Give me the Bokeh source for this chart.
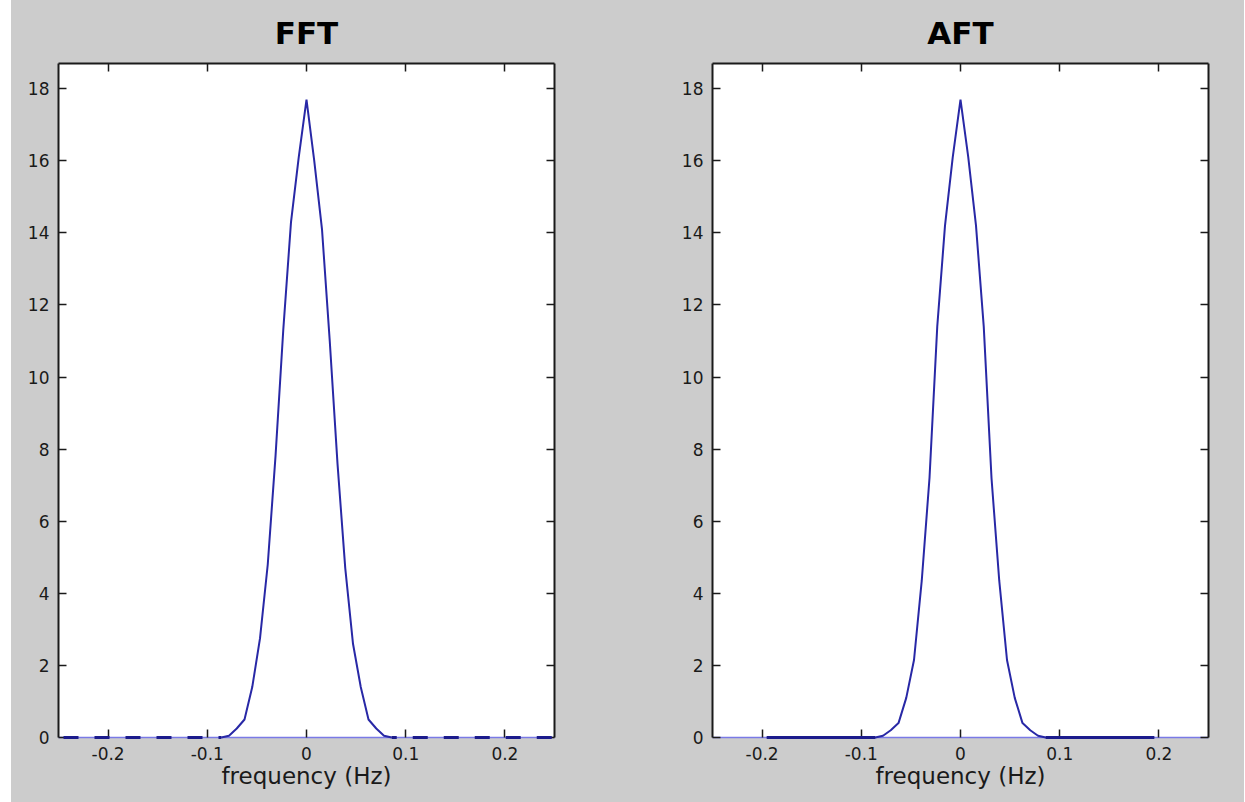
import numpy as np
from bokeh.plotting import figure
from bokeh.models import LinearAxis, FixedTicker, Range1d, Spacer
from bokeh.layouts import row, column
from bokeh.embed import file_html
from bokeh.resources import INLINE

# frequency grid (Hz), step 1/128
freq = np.arange(-32, 33) / 128.0

# FFT magnitude
fft_vals = [0]*22 + [0.05, 0.25, 0.5, 1.4, 2.75, 4.8, 7.8, 11.3, 14.3, 16.1,
                     17.7,
                     16.0, 14.1, 11.0, 7.6, 4.7, 2.6, 1.4, 0.5, 0.25, 0.05] + [0]*22

# AFT magnitude (defined on |f| <= 0.195 Hz)
aft_freq = np.arange(-25, 26) / 128.0
aft_vals = [0]*15 + [0.05, 0.2, 0.4, 1.1, 2.15, 4.35, 7.2, 11.4, 14.2, 16.1,
                     17.7,
                     16.1, 14.2, 11.4, 7.2, 4.35, 2.15, 1.1, 0.4, 0.2, 0.05] + [0]*15

x_ticks = [-0.2, -0.1, 0, 0.1, 0.2]
x_tick_labels = ["-0.2", "-0.1", "0", "0.1", "0.2"]
y_ticks = [0, 2, 4, 6, 8, 10, 12, 14, 16, 18]
titles = ["FFT", "AFT"]

GRAY = "#cccccc"
LINE = "#2828a6"
AXC = "#1a1a1a"
FONT = "DejaVu Sans"


def make(title, bl, br):
    p = figure(frame_width=496, frame_height=674,
               x_range=Range1d(-0.25, 0.25), y_range=Range1d(0, 18.7),
               output_backend="svg", toolbar_location=None,
               min_border_left=bl, min_border_right=br,
               min_border_top=63, min_border_bottom=65)
    p.border_fill_color = GRAY
    p.background_fill_color = "white"
    p.outline_line_color = None
    p.grid.visible = False
    p.title.text = title
    p.title.text_font = FONT
    p.title.text_font_style = "bold"
    p.title.text_font_size = "31px"
    p.title.align = "center"
    p.title.text_color = "black"
    p.title.standoff = 25

    xa = p.xaxis[0]
    xa.ticker = FixedTicker(ticks=x_ticks)
    xa.major_label_overrides = {t: l for t, l in zip(x_ticks, x_tick_labels)}
    xa.axis_label = "frequency (Hz)"
    xa.axis_label_text_font = FONT
    xa.axis_label_text_font_style = "normal"
    xa.axis_label_text_font_size = "23px"
    xa.axis_label_text_color = AXC
    xa.axis_label_standoff = 0
    ya = p.yaxis[0]
    ya.ticker = FixedTicker(ticks=y_ticks)
    for a in (xa, ya):
        a.major_tick_in = 8
        a.major_tick_out = 0
        a.minor_tick_in = 0
        a.minor_tick_out = 0
        a.major_tick_line_color = AXC
        a.major_tick_line_width = 1.5
        a.major_label_text_font = FONT
        a.major_label_text_font_size = "17px"
        a.major_label_text_color = AXC
        a.major_label_standoff = 9
    xa.axis_line_color = "#7a7ae6"
    xa.axis_line_width = 1.5
    ya.axis_line_color = AXC
    ya.axis_line_width = 2

    top = LinearAxis(ticker=FixedTicker(ticks=x_ticks))
    right = LinearAxis(ticker=FixedTicker(ticks=y_ticks))
    for a in (top, right):
        a.major_tick_in = 8
        a.major_tick_out = 0
        a.minor_tick_in = 0
        a.minor_tick_out = 0
        a.major_tick_line_color = AXC
        a.major_tick_line_width = 1.5
        a.major_label_text_font_size = "10px"
        a.major_label_text_color = None
        a.major_label_standoff = 0
        a.axis_line_color = AXC
        a.axis_line_width = 2
    p.add_layout(top, "above")
    p.add_layout(right, "right")
    return p


# FFT panel
p1 = make(titles[0], 47, 79)
fft_f = np.array(freq)
fft_v = np.array(fft_vals, dtype=float)
nz = np.nonzero(fft_v)[0]
lo, hi = nz[0] - 1, nz[-1] + 1
p1.line(fft_f[lo:hi + 1], fft_v[lo:hi + 1], line_color=LINE, line_width=2, level="overlay")
p1.line(fft_f[:lo + 1], fft_v[:lo + 1], line_color="#1c1c8c", line_width=3,
        line_dash="15 16", line_dash_offset=26, level="overlay")
p1.line(fft_f[hi:], fft_v[hi:], line_color="#1c1c8c", line_width=3,
        line_dash="15 16", line_dash_offset=10, level="overlay")

# AFT panel
p2 = make(titles[1], 79, 36)
p2.line(aft_freq, aft_vals, line_color=LINE, line_width=2, level="overlay")
a_v = np.array(aft_vals, dtype=float)
anz = np.nonzero(a_v)[0]
p2.line(aft_freq[:anz[0]], a_v[:anz[0]], line_color="#1c1c8c", line_width=3, level="overlay")
p2.line(aft_freq[anz[-1] + 1:], a_v[anz[-1] + 1:], line_color="#1c1c8c", line_width=3, level="overlay")

plots = row(p1, p2, styles={"background-color": GRAY})
layout = row(Spacer(width=11), plots)
open("out.html", "w").write(file_html(layout, INLINE))
